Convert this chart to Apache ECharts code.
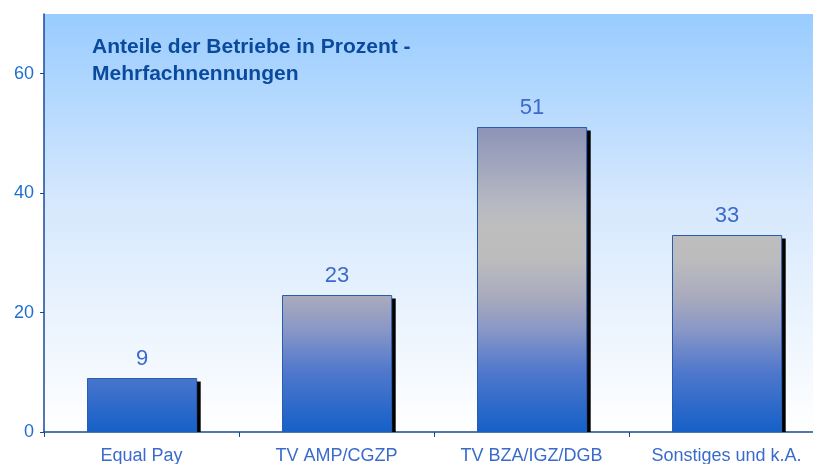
<!DOCTYPE html>
<html>
<head>
<meta charset="utf-8">
<script src="https://cdn.jsdelivr.net/npm/echarts@6/dist/echarts.min.js"></script>
<style>
html,body{margin:0;padding:0;background:#fff;}
#chart{width:813px;height:464px;}
</style>
</head>
<body>
<div id="chart"></div>
<script>
const categories = ['Equal Pay', 'TV AMP/CGZP', 'TV BZA/IGZ/DGB', 'Sonstiges und k.A.'];
const values = [9, 23, 51, 33];
const yTicks = [0, 20, 40, 60];
const titleLines = ['Anteile der Betriebe in Prozent -', 'Mehrfachnennungen'];

const chart = echarts.init(document.getElementById('chart'), null, {renderer: 'canvas'});

const FONT = 'Liberation Sans, Arial, sans-serif';
const barGradient = new echarts.graphic.LinearGradient(0, 128, 0, 432, [
  {offset: 0, color: '#8c94b8'},
  {offset: 0.24, color: '#b6b7c2'},
  {offset: 0.33, color: '#bebebe'},
  {offset: 0.43, color: '#bcbcbe'},
  {offset: 0.56, color: '#a8aabd'},
  {offset: 0.66, color: '#8a98c6'},
  {offset: 0.8, color: '#5078cc'},
  {offset: 1, color: '#1560c8'}
], true);

function renderBar(params, api) {
  const cat = api.value(0);
  const val = api.value(1);
  const top = api.coord([cat, val]);
  const base = api.coord([cat, 0]);
  const bw = api.size([1, 0])[0] * 0.56;
  const x = Math.round(top[0] - bw / 2) + 0.5;
  const y = Math.round(top[1]) + 0.5;
  const h = base[1] - y;
  return {
    type: 'group',
    children: [
      {
        type: 'rect',
        shape: {x: x + 4, y: y + 3, width: bw, height: h - 3},
        style: {fill: '#000'}
      },
      {
        type: 'rect',
        shape: {x: x, y: y, width: bw, height: h},
        style: {fill: barGradient, stroke: '#2a5db0', lineWidth: 1},
        textContent: {
          style: {
            text: String(val),
            fontFamily: FONT,
            fontSize: 22,
            fill: '#3a6bcc'
          }
        },
        textConfig: {position: 'top', distance: 8}
      }
    ]
  };
}

chart.setOption({
  animation: false,
  title: {
    text: titleLines.join('\n'),
    left: 87,
    top: 29,
    textStyle: {
      fontFamily: FONT,
      fontWeight: 'bold',
      fontSize: 21,
      color: '#0a4a9e',
      lineHeight: 27
    }
  },
  grid: {
    left: 44,
    top: 14,
    width: 780,
    height: 418,
    outerBoundsMode: 'none',
    containLabel: false,
    show: true,
    borderWidth: 0,
    backgroundColor: new echarts.graphic.LinearGradient(0, 0, 0, 1, [
      {offset: 0, color: '#99ccff'},
      {offset: 0.45, color: '#d6e8fd'},
      {offset: 1, color: '#ffffff'}
    ])
  },
  xAxis: {
    type: 'category',
    data: categories,
    axisLine: {lineStyle: {color: '#1a4a96', width: 1.5}},
    axisTick: {show: true, length: 5, lineStyle: {color: '#1a4a96'}},
    axisLabel: {
      interval: 0,
      margin: 15,
      fontFamily: FONT,
      fontSize: 18,
      color: '#3a6bcc'
    }
  },
  yAxis: {
    type: 'value',
    min: 0,
    max: 70,
    interval: 20,
    splitLine: {show: false},
    axisLine: {show: true, lineStyle: {color: '#1a4a96', width: 1.5}},
    axisTick: {show: true, length: 4, lineStyle: {color: '#1a4a96'}},
    axisLabel: {
      showMaxLabel: false,
      margin: 10,
      fontFamily: FONT,
      fontSize: 18,
      color: '#1f6fcf',
      formatter: function (v) { return yTicks.indexOf(v) >= 0 ? String(v) : ''; }
    }
  },
  series: [{
    type: 'custom',
    renderItem: renderBar,
    data: values.map(function (v, i) { return [i, v]; }),
    encode: {x: 0, y: 1},
    clip: true
  }]
});
</script>
</body>
</html>
